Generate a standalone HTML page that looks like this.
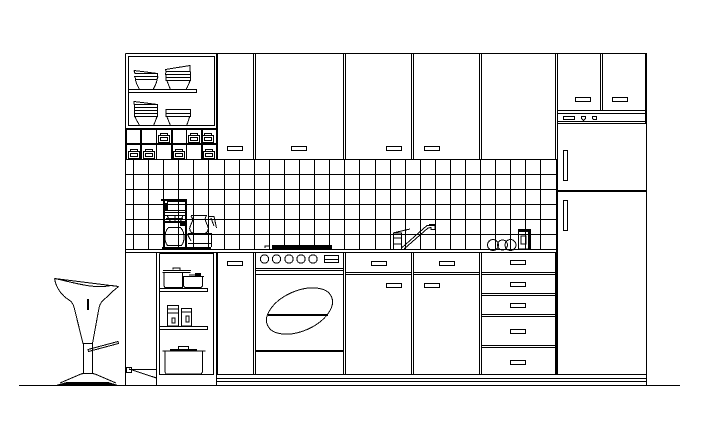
<!DOCTYPE html>
<html><head><meta charset="utf-8"><style>html,body{margin:0;padding:0;background:#fff}svg{display:block}</style></head>
<body>
<svg width="719" height="443" viewBox="0 0 719 443" xmlns="http://www.w3.org/2000/svg" shape-rendering="crispEdges">
<defs>
<g id="box" fill="none" stroke="#000">
<path d="M2.500 3.500V1.500H9.500V3.500M.5 10.500V3.500H11.500V10.500Z"/>
<path d="M2.500 5.500H9.500V8.500H2.500Z"/>
</g>
<g id="h"><rect x="0.5" y="0.5" width="15" height="4" fill="#fff" stroke="#000"/></g>
</defs>
<rect width="719" height="443" fill="#fff"/>
<g fill="none" stroke="#000" stroke-width="1">
<!-- ground -->
<path d="M19 385.500H680"/>
<!-- outer -->
<path d="M125.500 53.500H646.500V385.500M125.500 53.500V385.500"/>
<!-- tiles -->
<path d="M125.500 174.500H556M125.500 189.500H556M125.500 204.500H556M125.500 219.500H556M125.500 234.500H556"/>
<path d="M133.500 159V250M148.500 159V250M163.500 159V250M178.500 159V250M193.500 159V250M208.500 159V250M224.500 159V250M239.500 159V250M254.500 159V250M269.500 159V250M284.500 159V250M299.500 159V250M314.500 159V250M329.500 159V250M344.500 159V250M359.500 159V250M375.500 159V250M390.500 159V250M405.500 159V250M420.500 159V250M435.500 159V250M450.500 159V250M465.500 159V250M480.500 159V250M495.500 159V250M510.500 159V250M525.500 159V250M540.500 159V250"/>
<!-- upper cabinets -->
<path d="M125.500 159.500H557.500"/>
<path d="M217.500 53.500V159M253.500 53.500V159M255.500 53.500V159M343.500 53.500V159M345.500 53.500V159M411.500 53.500V159M413.500 53.500V159M479.500 53.500V159M481.500 53.500V159M555.500 53.500V159M557.500 53.500V159"/>
<!-- shelf unit -->
<path d="M128.500 56.500H214.500V125.500H128.500Z"/>
<path d="M128.500 89.500H196.500V92.500H128.500"/>
<path d="M125.500 128.500H216.500M125.500 129.500H216.500"/>
<path d="M216.500 53.500V159"/>
<path d="M126 144.500H216M126 143.500H216"/>
<path d="M140.500 129V159M141.500 129V159M156.500 129V159M171.500 129V159M172.500 129V159M186.500 129V159M201.500 129V159M202.500 129V159M126.500 129V159"/>
<!-- upper handles -->
<use href="#h" x="227" y="146"/><use href="#h" x="291" y="146"/><use href="#h" x="386" y="146"/><use href="#h" x="424" y="146"/>
<!-- tall unit -->
<path d="M557.500 110.500H646.500M557.500 113.500H646.500M557.500 121.500H646.500M557.500 123.500H646.500M557.500 190.500H646.500M557.500 191.500H646.500"/>
<path d="M600.500 53.500V110M602.500 53.500V110M645.500 53.500V123"/>
<path d="M556.500 159V374M557.500 159V374"/>
<use href="#h" x="575" y="97"/><use href="#h" x="612" y="97"/>
<rect x="563.500" y="116.500" width="11" height="3"/>
<rect x="563.500" y="150.500" width="4" height="30"/>
<rect x="563.500" y="200.500" width="4" height="30"/>
<path d="M581.500 116.500H585.500V118.500L583.500 120.500L581.500 118.500ZM592.500 116.500H596.500V119.500H593.500L592.500 118.500Z"/>
<!-- counter -->
<path d="M125.500 249.500H556.500M125.500 252.500H557.500M556.500 249.500V252.500"/>
<!-- lower left panels -->
<path d="M156.500 253V385.500M159.500 253.500H213.500V374.500H159.500V253.500M216.500 253V385.500M217.500 253V374"/>
<path d="M159.500 288.500H207.500V291.500H159.500M159.500 326.500H207.500V329.500H159.500"/>
<path d="M129 369.500H156.500"/>
<!-- plinth -->
<path d="M217 374.500H646.500M217 378.500H646.500M217 381.500H646.500"/>
<!-- lower columns -->
<path d="M253.500 253V374M255.500 253V374M343.500 253V374M345.500 253V374M411.500 253V374M413.500 253V374M479.500 253V374M481.500 253V374M555.500 253V374"/>
<use href="#h" x="227" y="261"/>
<!-- oven -->
<path d="M255.500 268.500H343.500M255.500 270.500H343.500M255.500 274.500H343.500M255.500 351.500H343.500M255.500 350.500H343.500"/>
<rect x="324.500" y="255.500" width="14" height="7"/><path d="M324.500 259.500H338.500"/>
<path d="M268 315.500H328M268 314.500H328"/>
<!-- base 2 -->
<path d="M345.500 272.500H411.500M345.500 274.500H411.500M413.500 272.500H479.500M413.500 274.500H479.500"/>
<use href="#h" x="371" y="261"/><use href="#h" x="386" y="283"/><use href="#h" x="439" y="261"/><use href="#h" x="424" y="283"/>
<!-- drawers -->
<path d="M481.500 272.500H555.500M481.500 274.500H555.500M481.500 293.500H555.500M481.500 295.500H555.500M481.500 314.500H555.500M481.500 316.500H555.500M481.500 345.500H555.500M481.500 347.500H555.500"/>
<use href="#h" x="510" y="260"/><use href="#h" x="510" y="282"/><use href="#h" x="510" y="303"/><use href="#h" x="510" y="329"/><use href="#h" x="510" y="360"/>
<!-- small box -->
<rect x="126.500" y="367.500" width="5" height="5"/>
<!-- cupboard boxes -->
<use href="#box" x="158" y="132"/><use href="#box" x="188" y="132"/><use href="#box" x="202" y="132"/>
<use href="#box" x="128" y="148"/><use href="#box" x="143" y="148"/><use href="#box" x="173" y="148"/><use href="#box" x="203" y="148"/>

<!-- oven ellipse and knobs -->
<ellipse cx="299.500" cy="311" rx="35" ry="20" transform="rotate(-24 299.500 311)"/>
<circle cx="264.500" cy="259" r="4.200"/><circle cx="276.500" cy="259" r="4.200"/><circle cx="289" cy="259" r="4.200"/><circle cx="301" cy="259" r="4.200"/><circle cx="313" cy="259" r="4.200"/>
<!-- bowls -->
<path d="M134 70.500L157.500 73.500V76.500L134 76.500M134 70.500L135 73.500H157.500M135 76.500L135.500 79.500H157L158 76.500M135.500 79.500C136 84 138 86 139.500 89.500H153C155 86 156.500 84 157 79.500"/>
<path d="M165.500 69.500L190 65.500V71.500H166ZM166 71.500L165.500 74.500H190.500V71.500M166 74.500V77.500H190.500V74.500M166 77.500V80.500H190.500V77.500M167 80.500C168 84 169 86 170.500 89.500H186C188 86 189 84 190 80.500"/>
<path d="M134 101.500L157.500 104.500V107.500H134.500ZM134 104.500H157.500M134.500 107.500V110.500H157.500V107.500M134.500 110.500V113.500H157.500V110.500M134.500 113.500V116.500H157.500V113.500M135 116.500C136 120 138 122 139.500 125.500M157 116.500C156 120 155 122 153.500 125.500"/>
<path d="M166 109.500H190.500V113.500H166ZM166 113.500V116.500H190.500V113.500M167 116.500C168 120 169 122 170.500 125.500M189.500 116.500C189 120 188 122 186.500 125.500"/>
<!-- pots -->
<path d="M162.500 272.500H190.500M163 270.500H191M164 272V286L165 287.500H182.500V272"/>
<path d="M173 269.500V268H180V270"/>
<path d="M183 276.500H204M183.500 277V286L185 287.500H201L202.500 286V277"/>
<path d="M189 275H201"/>
<rect x="167.500" y="305.500" width="11" height="20.500"/>
<path d="M167.500 309H178.500M167.500 313H178.500M172 318H175V323H172Z"/>
<rect x="181.500" y="308.500" width="10" height="17.500"/>
<path d="M181.500 312H191.500M186 316H189V322H186Z"/>
<path d="M162.500 351H205.500M165 351V372L166 374H201L202.500 372V351"/>
<path d="M178.500 350V346.500H188.500V350"/>
<path d="M129 369L156.500 378"/>
<!-- cooktop -->
<path d="M265 248V246H270"/>
<!-- faucet -->
<path d="M393.500 249V233H401.500V249M393.500 238H401.500M393.500 244H401.500"/>
<path d="M393 233L410 229M401.500 248L427 225.500L435 224.500V229.500H431L431 227.500L428 228L404 249"/>
<!-- fruit -->
<circle cx="493" cy="245" r="5.500"/><circle cx="502.500" cy="245" r="5"/><circle cx="510.500" cy="245" r="5.500"/>
<!-- jar -->
<path d="M518.500 249V231.500H530.500V249ZM521 236H526V244H521Z"/>
<!-- coffee maker -->
<rect x="167.500" y="201.500" width="18" height="9"/>
<path d="M164.500 212.500H185M164.500 215.500H185M166 218.500H183M167 215.500L171 222.500H180L183 215.500M175 215.500V222"/>
<path d="M168 227.500H181M168 228C164 233 164 241 167.500 245.500H181.500C185 241 185 233 181 228"/>
<path d="M191 215.500H207M193 219.500L190 227C189 230 191 233.500 195 233.500H204C207 233.500 209 230 208 227L205 219.500H193ZM191 216L193 219.500M206 216L205 219.500"/>
<path d="M208 216.500H214L216.500 228M211 218L214 226"/>
<path d="M188 233.500H211.500V247M188 243.500H211.500"/>
<path d="M187 233.500L191 241"/>
<!-- stool -->
<path d="M54.500 278.500L118.500 286.500"/>
<path d="M54.500 278.500C68 281 92 289 108 286C112 285 116 286 118.500 286.500"/>
<path d="M54.500 278.500C56 287 60 293 66 298C71 301 73 303 74 307L83 343.500H92.500L99 308C100 303 102 301 107 297C112 291 116 289 118.500 286.500"/>
<path d="M83.500 343.500V373.500M92.500 343.500V373.500M81.500 373.500H94M83.500 373.500L81 374L60 383M92.500 373.500L95 374L116 383"/>
<path d="M88 349.500L118 341.500L118.500 343.500L88.500 351.500Z"/>
</g>
<!-- solid accents -->
<g fill="#000">
<rect x="272" y="245" width="60" height="4"/>
<rect x="87" y="299" width="2" height="11"/>
<path d="M56 385L67 382H108L118 385Z"/>
<rect x="161" y="199" width="26" height="2"/>
<rect x="185" y="199" width="2" height="48"/>
<rect x="163" y="201" width="2" height="46"/>
<rect x="164" y="203" width="3" height="8"/>
<rect x="163" y="221" width="23" height="2"/>
<rect x="180" y="223" width="6" height="3"/>
<rect x="162" y="247" width="49" height="2"/>
<rect x="528" y="230" width="3" height="19"/>
<rect x="518" y="229" width="13" height="2"/>
<rect x="195" y="273" width="6" height="3"/>
<rect x="170" y="349" width="27" height="2"/>
<rect x="429" y="224" width="6" height="2"/>
</g>
</svg>
</body></html>
